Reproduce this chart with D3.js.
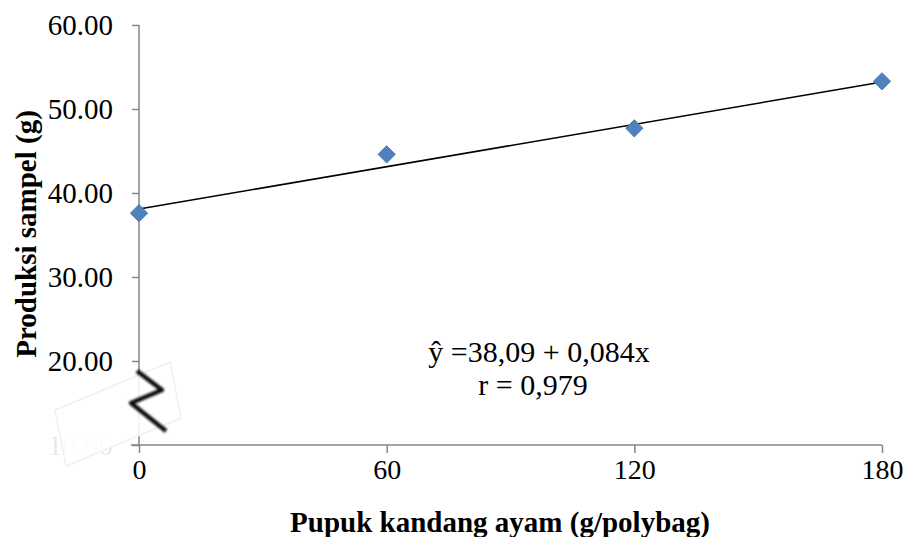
<!DOCTYPE html>
<html><head><meta charset="utf-8">
<script src="https://cdn.jsdelivr.net/npm/d3@7"></script>
<style>body{margin:0;background:#fff}svg{display:block}text{font-family:"Liberation Serif","Times New Roman",serif;fill:#000}</style>
</head><body><svg id="c" width="908" height="537"></svg>
<script>
const doses = [0, 60, 120, 180];
const production = [37.6, 44.6, 47.7, 53.3];
const yTicks = [10, 20, 30, 40, 50, 60];
const intercept = 38.09, slope = 0.084;
const eqLines = ["ŷ =38,09 + 0,084x", "r = 0,979"];
const xTitle = "Pupuk kandang ayam (g/polybag)";
const yTitle = "Produksi sampel (g)";

const svg = d3.select("#c");
const x = d3.scaleLinear().domain([0, 180]).range([139, 882]);
const y = d3.scaleLinear().domain([10, 60]).range([445, 25]);
const axisCol = "#868686";

// y axis
const ya = svg.append("g").attr("transform", "translate(139,0)")
  .call(d3.axisLeft(y).tickValues(yTicks).tickSize(7).tickPadding(19).tickFormat(d => d.toFixed(2)));
ya.select(".domain").attr("stroke", axisCol).attr("stroke-width", 1.5).attr("d", "M0,25V445");
ya.selectAll(".tick line").attr("stroke", axisCol).attr("stroke-width", 1.5);
ya.selectAll(".tick text").attr("font-size", 29).attr("font-family", "Liberation Serif").attr("fill", "#000")
  .attr("fill-opacity", d => d === 10 ? 0.1 : 1);

// x axis
const xa = svg.append("g").attr("transform", "translate(0,445)")
  .call(d3.axisBottom(x).tickValues(doses).tickSize(8).tickPadding(6).tickFormat(d3.format("d")));
xa.select(".domain").attr("stroke", axisCol).attr("stroke-width", 1.5).attr("d", "M131,0H882");
xa.selectAll(".tick line").attr("stroke", axisCol).attr("stroke-width", 1.5);
xa.selectAll(".tick text").attr("font-size", 28).attr("font-family", "Liberation Serif").attr("fill", "#000");

// axis break overlay
svg.append("polygon")
  .attr("points", "55,410 170,362 181,418 66,466")
  .attr("fill", "#fff").attr("fill-opacity", 0.88)
  .attr("stroke", "#f0f0f0").attr("stroke-width", 1.5);
const defs = svg.append("defs");
defs.append("filter").attr("id", "blur").append("feGaussianBlur").attr("stdDeviation", 1.1);
svg.append("path")
  .attr("d", "M137,371 L162,390 L131,403 L166,431")
  .attr("fill", "none").attr("stroke", "#111").attr("stroke-width", 4.5)
  .attr("stroke-linejoin", "round").attr("filter", "url(#blur)");

// regression line
svg.append("line")
  .attr("x1", x(0)).attr("y1", y(intercept))
  .attr("x2", x(180)).attr("y2", y(intercept + slope * 180))
  .attr("stroke", "#000").attr("stroke-width", 1.6);

// markers
svg.selectAll(".pt").data(doses).enter().append("path")
  .attr("class", "pt")
  .attr("d", d3.symbol().type(d3.symbolDiamond2).size(190))
  .attr("transform", (d, i) => `translate(${x(d)},${y(production[i])})`)
  .attr("fill", "#4F81BD").attr("stroke", "#4A7EBB").attr("stroke-width", 1);

// equation
svg.append("text").attr("x", 539).attr("y", 362).attr("text-anchor", "middle")
  .attr("font-size", 30).text(eqLines[0]);
svg.append("text").attr("x", 533).attr("y", 395).attr("text-anchor", "middle")
  .attr("font-size", 30).text(eqLines[1]);

// titles
svg.append("text").attr("x", 500).attr("y", 532).attr("text-anchor", "middle")
  .attr("font-size", 29).attr("font-weight", "bold").text(xTitle);
svg.append("text").attr("transform", "translate(36,234) rotate(-90)").attr("text-anchor", "middle")
  .attr("font-size", 29).attr("font-weight", "bold").text(yTitle);
</script></body></html>
